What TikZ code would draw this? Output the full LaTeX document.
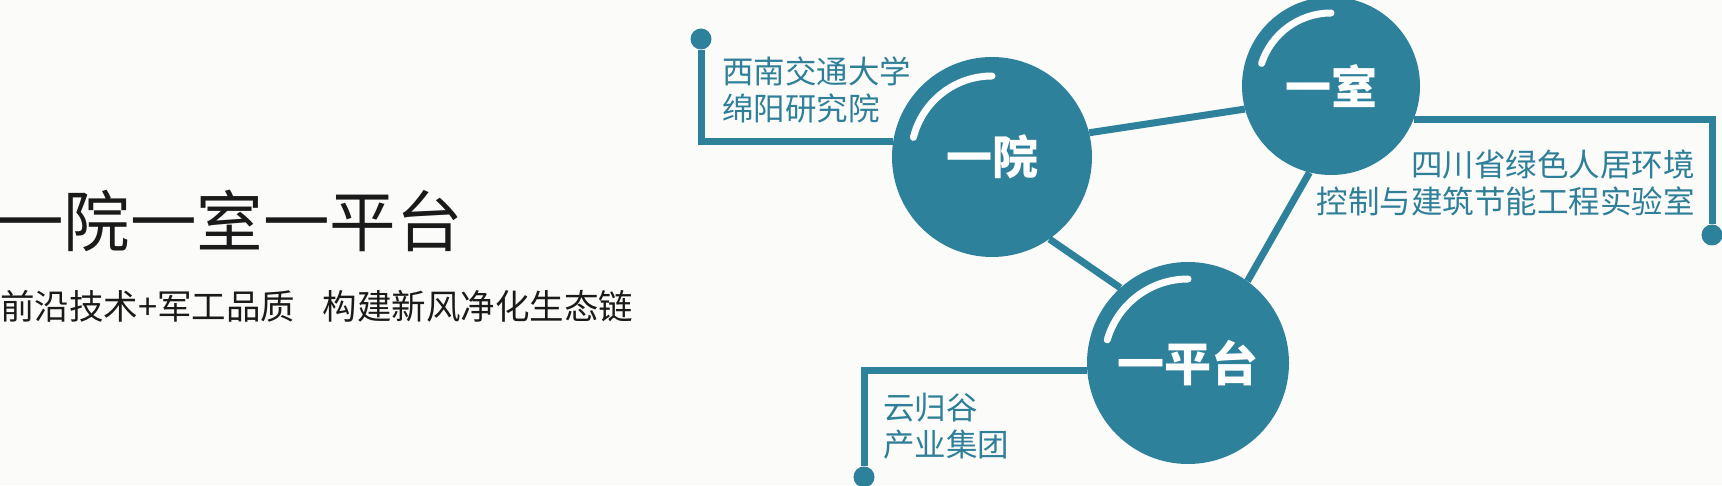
\documentclass[tikz,border=0pt]{standalone}
\usepackage{fontspec}
\newfontfamily\cjk{Noto Sans CJK SC}
\usetikzlibrary{backgrounds}
\definecolor{teal1}{HTML}{2E819B}
\definecolor{tealtext}{HTML}{2F7F99}
\definecolor{bg}{HTML}{FBFBF9}
\definecolor{ink}{HTML}{1A1A1A}
\tikzset{
  hub/.style={circle, fill=teal1, inner sep=0pt, text=white, font=\cjk\bfseries\fontsize{46}{46}\selectfont},
  pin/.style={circle, fill=teal1, inner sep=0pt, minimum size=21pt},
  link/.style={draw=teal1, line width=7pt},
  shine/.style={draw=white, line width=7pt, line cap=round},
  lab/.style={inner sep=0pt, text=tealtext, font=\cjk\fontsize{31.5}{37}\selectfont},
}
\begin{document}
\begin{tikzpicture}[x=1pt,y=1pt]
\useasboundingbox (0,0) rectangle (1722,485);
% hubs
\node[hub, minimum size=200pt] (A) at (992,328) {一院};
\node[hub, minimum size=178pt] (B) at (1331,399) {\raisebox{-5pt}{一室}};
\node[hub, minimum size=202pt, font=\cjk\bfseries\fontsize{47}{47}\selectfont] (C) at (1188,122) {一平台};
% pins
\node[pin] (pA) at (701,446) {};
\node[pin] (pB) at (1712,250) {};
\node[pin] (pC) at (864,8) {};
% labels
\node[lab, anchor=north west, align=left] (lA) at (722,428) {西南交通大学\\绵阳研究院};
\node[lab, anchor=north east, align=right] (lB) at (1695,335) {四川省绿色人居环境\\控制与建筑节能工程实验室};
\node[lab, anchor=north west, align=left] (lC) at (883,92) {云归谷\\产业集团};
% title
\node[inner sep=0pt, anchor=west, text=ink, font=\cjk\fontsize{66.5}{66.5}\selectfont] (title) at (-3,264) {一院一室一平台};
\node[inner sep=0pt, anchor=west, text=ink, font=\cjk\fontsize{34.5}{34.5}\selectfont] (sub) at (0,179) {前沿技术+军工品质\hspace{0.8em}构建新风净化生态链};
% highlights
\draw[shine] ([shift={(90:81pt)}]A.center) arc[start angle=90, end angle=166, radius=81pt];
\draw[shine] ([shift={(90:73pt)}]B.center) arc[start angle=90, end angle=162, radius=73pt];
\draw[shine] ([shift={(90:84pt)}]C.center) arc[start angle=90, end angle=164, radius=84pt];
\begin{scope}[on background layer]
\fill[bg] (0,0) rectangle (1722,485);
\draw[link] (A.14) -- (B.195);
\draw[link] (A.-55) -- (C.132);
\draw[link] (B.256) -- (C.54);
\draw[link] (pA) |- (A.171);
\draw[link] (pB) |- (B.-22.5);
\draw[link] (pC) |- (C.184);
\end{scope}
\end{tikzpicture}
\end{document}
